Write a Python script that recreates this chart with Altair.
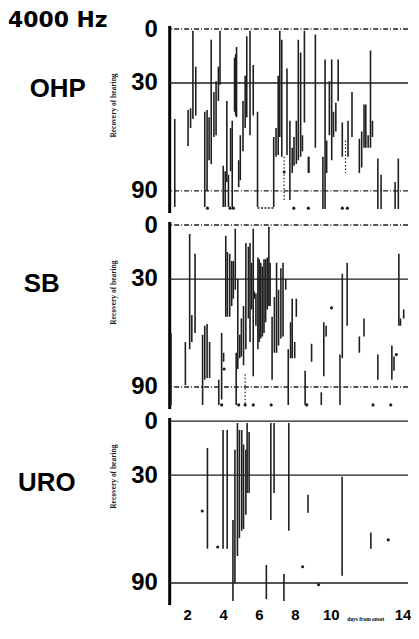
import altair as alt
import pandas as pd

# ---------------- data: days since onset / recovery of hearing (dB) ----------------
# OHP panel: vertical segments (day, recovery at start, recovery at end)
ohp_day = [1.31, 2.05, 2.19, 2.32, 2.48, 2.98, 3.11, 3.22, 3.34, 3.49, 3.61, 3.74, 3.83,
           4.01, 4.12, 4.21, 4.30, 4.42, 4.51, 4.64, 4.70, 4.75, 4.87, 4.96, 5.11, 5.23,
           5.32, 5.50, 5.68, 5.92, 6.82, 6.95, 7.07, 7.16, 7.27, 7.56, 7.72, 7.85, 7.95,
           8.08, 8.19, 8.32, 8.42, 8.53, 8.75, 8.78, 9.14, 9.56, 9.68, 9.77, 9.92, 10.05,
           10.15, 10.28, 10.41, 10.64, 10.96, 11.18, 11.59, 11.72, 11.85, 11.95, 12.08,
           12.21, 12.32, 12.62, 12.80, 13.58, 13.76]
ohp_top = [50, 45, 44, 1, 21, 46, 45, 49, 6, 35, 29, 21, 1,
           76, 79, 40, 81, 55, 51, 16, 14, 10, 73, 59, 40, 26,
           4, 1, 20, 46, 60, 55, 26, 1, 6, 22, 51, 66, 60,
           51, 6, 13, 59, 1, 71, 71, 3, 71, 17, 62, 29, 17,
           46, 41, 17, 52, 51, 35, 61, 57, 42, 42, 59,
           12, 51, 72, 81, 85, 72]
ohp_bot = [99, 65, 55, 50, 48, 99, 90, 73, 75, 60, 59, 40, 31,
           99, 99, 85, 99, 79, 99, 46, 48, 49, 88, 84, 68, 55,
           49, 59, 48, 99, 99, 71, 70, 60, 71, 70, 95, 80, 76,
           75, 73, 71, 68, 52, 80, 80, 66, 100, 100, 80, 59, 73,
           60, 57, 40, 71, 71, 60, 80, 77, 66, 66, 66,
           66, 60, 100, 100, 100, 100]
ohp_dotted_day = [7.40, 10.82]
ohp_dotted_top = [71, 62]
ohp_dotted_bot = [95, 80]
ohp_dot_day = [3.13, 4.39, 4.57, 7.94, 8.75, 10.64, 10.92, 7.40]
ohp_dot_rec = [99.6, 99.6, 99.6, 99.6, 99.6, 99.6, 99.6, 79.5]
ohp_link_from = [5.92]
ohp_link_to = [6.82]
ohp_link_rec = [99.5]

# SB panel
sb_day = [1.10, 1.90, 2.14, 2.26, 2.44, 2.86, 2.98, 3.11, 3.25, 3.76, 3.92, 4.03, 4.15,
          4.24, 4.37, 4.48, 4.57, 4.68, 4.73, 4.82, 4.93, 5.02, 5.14, 5.27, 5.41, 5.50,
          5.59, 5.68, 5.74, 5.83, 5.94, 6.01, 6.10, 6.19, 6.28, 6.37, 6.46, 6.55, 6.62,
          6.73, 6.86, 6.98, 7.09, 7.22, 7.34, 7.49, 7.63, 7.76, 7.85, 7.99, 8.08, 8.57,
          8.93, 9.47, 9.61, 9.74, 10.51, 10.64, 10.91, 11.59, 11.85, 12.62, 13.40, 13.52,
          13.79, 13.88, 14.06]
sb_top = [60, 65, 5, 50, 16, 61, 56, 55, 65, 86, 60, 71, 6,
          15, 16, 20, 20, 2, 71, 30, 61, 52, 45, 10, 12, 10,
          21, 2, 37, 38, 18, 19, 21, 23, 19, 19, 18, 1, 21,
          51, 40, 21, 36, 24, 21, 30, 69, 54, 41, 65, 41, 81,
          66, 93, 54, 56, 72, 27, 21, 62, 52, 72, 67, 73,
          16, 52, 47]
sb_bot = [100, 89, 69, 65, 60, 100, 86, 85, 85, 100, 97, 76, 51,
          51, 51, 45, 41, 36, 100, 80, 74, 73, 78, 69, 52, 65,
          47, 84, 41, 56, 69, 65, 63, 62, 60, 54, 47, 45, 45,
          86, 71, 71, 67, 63, 62, 36, 100, 74, 74, 74, 51, 100,
          76, 100, 84, 62, 100, 74, 56, 71, 62, 86, 86, 81,
          56, 56, 52]
sb_dotted_day = [5.23]
sb_dotted_top = [83]
sb_dotted_bot = [100]
sb_dot_day = [4.06, 10.04, 13.65, 3.92, 4.87, 5.23, 5.68, 6.68, 8.66, 12.35, 13.34]
sb_dot_rec = [80, 46, 72, 100, 100, 100, 100, 100, 100, 100, 100]

# URO panel
uro_day = [3.13, 4.00, 4.23, 4.55, 4.66, 4.80, 4.91, 5.04, 5.14, 5.27, 5.34, 5.45,
           6.41, 6.66, 6.84, 7.39, 7.66, 8.73, 10.63, 12.23]
uro_top = [15, 5, 5, 55, 16, 1, 5, 5, 13, 16, 1, 6, 80, 1, 1, 85, 1, 41, 31, 62]
uro_bot = [71, 71, 71, 100, 90, 75, 65, 61, 60, 52, 40, 40, 99, 55, 40, 100, 61, 51, 86, 71]
uro_dot_day = [2.84, 3.70, 8.43, 9.32, 13.2]
uro_dot_rec = [50, 70, 81, 91, 66]

y_ticks = [0, 30, 90]
x_ticks = [2, 4, 6, 8, 10, 14]
group_names = ["OHP", "SB", "URO"]
header_text = "4000 Hz"

# ---------------- styling ----------------
INK = "#1e1e1e"
NUM_FONT = "Liberation Sans Narrow, Liberation Sans, Arial, sans-serif"
LBL_FONT = "Liberation Sans Narrow, Liberation Sans, Arial, sans-serif"
W, H = 240, 188
XS = alt.Scale(domain=[1, 14.3], nice=False, zero=False)
YS = alt.Scale(domain=[-2, 102], reverse=True, nice=False, zero=False)


def panel(name, day, top, bot, dot_day, dot_rec, dotted=None, link=None,
          all_solid=False, label_xy=(0, 0), title_y=90, bottom=False, header=False):
    yaxis = alt.Axis(values=y_ticks, labelFont=NUM_FONT, labelFontSize=24,
                     labelFontWeight="bold", labelColor="black", ticks=False,
                     labelPadding=12, domainColor="black", domainWidth=3, grid=False,
                     title="Recovery of hearing", titleFont="Liberation Serif",
                     titleFontSize=7.5, titleFontWeight="bold", titleColor=INK,
                     titleX=-56, titleY=title_y, titleAngle=270,
                     titleAlign="center", titleBaseline="middle", labelFlush=False)
    if bottom:
        xaxis = alt.Axis(values=x_ticks, labelFont=NUM_FONT, labelFontSize=15,
                         labelFontWeight="bold", labelColor="black", ticks=False,
                         domain=False, grid=False, labelPadding=3, labelFlush=False,
                         title="days from onset", titleFont="Liberation Serif",
                         titleFontSize=5.5, titleFontWeight="bold", titleX=197,
                         titleY=14, titleAlign="center", titleBaseline="middle")
    else:
        xaxis = None

    def X(field):
        return alt.X(field, scale=XS, axis=xaxis)

    def Y(field):
        return alt.Y(field, scale=YS, axis=yaxis)

    layers = []
    refs = pd.DataFrame({"rec": y_ticks})
    if all_solid:
        layers.append(alt.Chart(refs).mark_rule(color=INK, strokeWidth=1.3).encode(y=Y("rec:Q")))
    else:
        layers.append(alt.Chart(refs[refs.rec != 30]).mark_rule(
            color=INK, strokeWidth=1.4, strokeDash=[5, 2, 1, 2]).encode(y=Y("rec:Q")))
        layers.append(alt.Chart(refs[refs.rec == 30]).mark_rule(
            color=INK, strokeWidth=1.3).encode(y=Y("rec:Q")))

    seg = pd.DataFrame({"day": day, "top": top, "bot": bot})
    layers.append(alt.Chart(seg).mark_rule(color=INK, strokeWidth=1.6, clip=True).encode(
        x=X("day:Q"), y=Y("top:Q"), y2="bot:Q"))
    if dotted is not None:
        dd = pd.DataFrame({"day": dotted[0], "top": dotted[1], "bot": dotted[2]})
        layers.append(alt.Chart(dd).mark_rule(color=INK, strokeWidth=1.2,
                                              strokeDash=[1.5, 2], clip=True).encode(
            x=X("day:Q"), y=Y("top:Q"), y2="bot:Q"))
    if link is not None:
        ld = pd.DataFrame({"a": link[0], "b": link[1], "rec": link[2]})
        layers.append(alt.Chart(ld).mark_rule(color=INK, strokeWidth=1.4,
                                              strokeDash=[2, 1.5], clip=True).encode(
            x=X("a:Q"), x2="b:Q", y=Y("rec:Q")))
    dots = pd.DataFrame({"day": dot_day, "rec": dot_rec})
    layers.append(alt.Chart(dots).mark_circle(color=INK, size=10, opacity=1, clip=True).encode(
        x=X("day:Q"), y=Y("rec:Q")))

    layers.append(alt.Chart(pd.DataFrame({"t": [name]})).mark_text(
        font=LBL_FONT, fontSize=26, fontWeight="bold", color="black",
        align="center", baseline="middle").encode(
        text="t:N", x=alt.value(label_xy[0]), y=alt.value(label_xy[1])))
    if header:
        layers.append(alt.Chart(pd.DataFrame({"t": [header_text]})).mark_text(
            font="DejaVu Sans", fontSize=22, fontWeight="bold", color="black",
            align="left", baseline="alphabetic").encode(
            text="t:N", x=alt.value(-162), y=alt.value(2)))

    return alt.layer(*layers).properties(width=W, height=H)


p1 = panel(group_names[0], ohp_day, ohp_top, ohp_bot, ohp_dot_day, ohp_dot_rec,
           dotted=(ohp_dotted_day, ohp_dotted_top, ohp_dotted_bot),
           link=(ohp_link_from, ohp_link_to, ohp_link_rec),
           label_xy=(-112, 64), title_y=80, header=True)
p2 = panel(group_names[1], sb_day, sb_top, sb_bot, sb_dot_day, sb_dot_rec,
           dotted=(sb_dotted_day, sb_dotted_top, sb_dotted_bot),
           label_xy=(-128, 63), title_y=71)
p3 = panel(group_names[2], uro_day, uro_top, uro_bot, uro_dot_day, uro_dot_rec,
           all_solid=True, label_xy=(-123, 66), title_y=59, bottom=True)

chart = alt.vconcat(p1, p2, p3, spacing=9, bounds="flush").properties(
    padding={"left": 0, "top": 0, "right": 0, "bottom": 0},
    autosize=alt.AutoSizeParams(type="pad"),
    background="white"
).configure_view(stroke=None)

chart.save("out.html", embed_options={"renderer": "svg", "actions": False})
